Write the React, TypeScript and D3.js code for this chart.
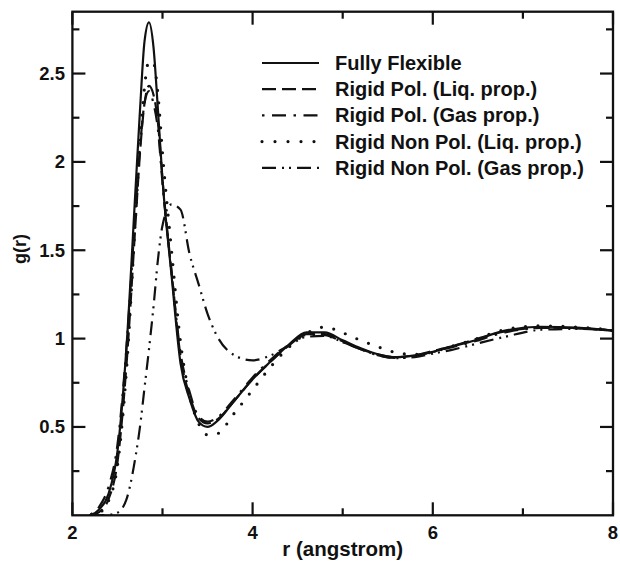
import React, { useRef, useEffect } from "react";
import * as d3 from "d3";

// r grid (angstrom) shared by all curves
const rValues = [
  2.2, 2.3, 2.4, 2.5, 2.6, 2.7, 2.75, 2.8, 2.85, 2.9, 2.95, 3.0, 3.1, 3.2, 3.3, 3.4, 3.5, 3.6,
  3.8, 4.0, 4.2, 4.4, 4.6, 4.8, 5.0, 5.2, 5.4, 5.6, 5.8, 6.0, 6.2, 6.4, 6.8, 7.2, 7.6, 8.0,
];

const fullyFlexible = [
  0, 0.035, 0.12, 0.36, 0.95, 1.84, 2.29, 2.68, 2.79, 2.65, 2.29, 1.9, 1.36, 0.86, 0.66, 0.53, 0.5, 0.53,
  0.65, 0.77, 0.87, 0.965, 1.035, 1.035, 0.99, 0.945, 0.91, 0.895, 0.905, 0.925, 0.955, 0.98, 1.045, 1.067, 1.062, 1.045,
];
const rigidPolLiq = [
  0, 0.02, 0.09, 0.3, 0.85, 1.65, 2.05, 2.33, 2.43, 2.38, 2.22, 1.9, 1.38, 0.9, 0.68, 0.55, 0.52, 0.54,
  0.65, 0.77, 0.87, 0.96, 1.025, 1.025, 0.985, 0.94, 0.91, 0.895, 0.905, 0.93, 0.955, 0.985, 1.04, 1.062, 1.058, 1.045,
];
const rigidPolGas = [
  0.005, 0.05, 0.16, 0.4, 0.95, 1.72, 2.08, 2.33, 2.4, 2.33, 2.18, 1.88, 1.38, 0.92, 0.7, 0.56, 0.53, 0.55,
  0.66, 0.78, 0.88, 0.965, 1.02, 1.02, 0.98, 0.94, 0.905, 0.89, 0.9, 0.925, 0.95, 0.975, 1.035, 1.06, 1.06, 1.045,
];
const rigidNonPolLiq = [
  0, 0.015, 0.08, 0.28, 0.82, 1.68, 2.1, 2.42, 2.57, 2.56, 2.38, 2.05, 1.5, 0.98, 0.68, 0.52, 0.455, 0.46,
  0.58, 0.71, 0.84, 0.95, 1.03, 1.065, 1.033, 0.99, 0.952, 0.92, 0.91, 0.925, 0.955, 0.985, 1.05, 1.072, 1.065, 1.048,
];
const rigidNonPolGas = [
  0, 0, 0.003, 0.015, 0.09, 0.33, 0.5, 0.72, 0.94, 1.18, 1.45, 1.64, 1.76, 1.73, 1.48, 1.31, 1.14, 1.02,
  0.905, 0.877, 0.905, 0.96, 1.01, 1.015, 0.98, 0.94, 0.905, 0.89, 0.895, 0.915, 0.935, 0.96, 1.01, 1.05, 1.055, 1.045,
];

const seriesNames = [
  "Fully Flexible",
  "Rigid Pol. (Liq. prop.)",
  "Rigid Pol. (Gas prop.)",
  "Rigid Non Pol. (Liq. prop.)",
  "Rigid Non Pol. (Gas prop.)",
];
const seriesValues = [fullyFlexible, rigidPolLiq, rigidPolGas, rigidNonPolLiq, rigidNonPolGas];

const xTicks = [2, 4, 6, 8];
const xMinorTicks = [3, 5, 7];
const yTicks = [0.5, 1, 1.5, 2, 2.5];
const yMinorTicks = [0.25, 0.75, 1.25, 1.75, 2.25, 2.75];

// line styles, in legend order
const dashes = ["none", "14 6", "2.5 7.5 14 7.5", "0 12.5", "14 6 2 5 2 6"];

const W = 620;
const H = 564;
const FONT = "'Liberation Sans', Arial, Helvetica, sans-serif";

const App = () => {
  const svgRef = useRef(null);

  useEffect(() => {
    const svg = d3.select(svgRef.current);
    svg.selectAll("*").remove();

    const left = 72.4;
    const right = 613;
    const top = 11.7;
    const bottom = 515.3;

    const x = d3.scaleLinear().domain([2, 8]).range([left, right]);
    const y = d3.scaleLinear().domain([0, 2.85]).range([bottom, top]);

    svg
      .append("defs")
      .append("clipPath")
      .attr("id", "plot-clip")
      .append("rect")
      .attr("x", left)
      .attr("y", top)
      .attr("width", right - left)
      .attr("height", bottom - top);

    const line = d3
      .line()
      .x((d) => x(d[0]))
      .y((d) => y(d[1]))
      .curve(d3.curveMonotoneX);

    // curves
    const curves = svg.append("g").attr("clip-path", "url(#plot-clip)");
    seriesValues.forEach((vals, i) => {
      const pts = rValues.map((r, j) => [r, vals[j]]);
      curves
        .append("path")
        .datum(pts)
        .attr("d", line)
        .attr("fill", "none")
        .attr("stroke", "#111")
        .attr("stroke-width", i === 3 ? 3.2 : 2.2)
        .attr("stroke-linecap", i === 3 ? "round" : "butt")
        .attr("stroke-dasharray", dashes[i]);
    });

    // frame
    svg
      .append("rect")
      .attr("x", left)
      .attr("y", top)
      .attr("width", right - left)
      .attr("height", bottom - top)
      .attr("fill", "none")
      .attr("stroke", "#111")
      .attr("stroke-width", 2.3);

    const ticks = svg.append("g").attr("stroke", "#111").attr("stroke-width", 2.2);
    const major = 13;
    const minor = 7;

    // x ticks, bottom and top, pointing inward
    [...xTicks.map((t) => [t, major]), ...xMinorTicks.map((t) => [t, minor])].forEach(([t, len]) => {
      ticks.append("line").attr("x1", x(t)).attr("x2", x(t)).attr("y1", bottom).attr("y2", bottom - len);
      ticks.append("line").attr("x1", x(t)).attr("x2", x(t)).attr("y1", top).attr("y2", top + len);
    });
    // y ticks, left and right
    [...yTicks.map((t) => [t, major]), ...yMinorTicks.map((t) => [t, minor])].forEach(([t, len]) => {
      ticks.append("line").attr("y1", y(t)).attr("y2", y(t)).attr("x1", left).attr("x2", left + len);
      ticks.append("line").attr("y1", y(t)).attr("y2", y(t)).attr("x1", right).attr("x2", right - len);
    });

    const text = svg.append("g").attr("font-family", FONT).attr("font-weight", "bold").attr("fill", "#111");

    text
      .selectAll(".xlab")
      .data(xTicks)
      .enter()
      .append("text")
      .attr("x", (d) => x(d))
      .attr("y", 539)
      .attr("text-anchor", "middle")
      .attr("font-size", 18.5)
      .text((d) => String(d));

    text
      .selectAll(".ylab")
      .data(yTicks)
      .enter()
      .append("text")
      .attr("x", 65)
      .attr("y", (d) => y(d) + 6.5)
      .attr("text-anchor", "end")
      .attr("font-size", 18.5)
      .text((d) => String(d));

    text
      .append("text")
      .attr("x", (left + right) / 2)
      .attr("y", 556)
      .attr("text-anchor", "middle")
      .attr("font-size", 20.5)
      .text("r (angstrom)");

    text
      .append("text")
      .attr("transform", "translate(26, 249) rotate(-90)")
      .attr("text-anchor", "middle")
      .attr("font-size", 18)
      .text("g(r)");

    // legend
    const legend = svg.append("g");
    seriesNames.forEach((name, i) => {
      const ly = 63 + i * 26.2;
      legend
        .append("line")
        .attr("x1", 262)
        .attr("x2", 319)
        .attr("y1", ly)
        .attr("y2", ly)
        .attr("stroke", "#111")
        .attr("stroke-width", i === 3 ? 3.2 : 2.2)
        .attr("stroke-linecap", i === 3 ? "round" : "butt")
        .attr("stroke-dasharray", i === 3 ? "0 13" : dashes[i]);
      legend
        .append("text")
        .attr("x", 335)
        .attr("y", ly + 7)
        .attr("font-family", FONT)
        .attr("font-weight", "bold")
        .attr("font-size", 20)
        .attr("fill", "#111")
        .text(name);
    });
  }, []);

  return (
    <svg
      ref={svgRef}
      width={W}
      height={H}
      style={{ position: "absolute", left: 0, top: 0, background: "#fff" }}
    />
  );
};

export default App;
